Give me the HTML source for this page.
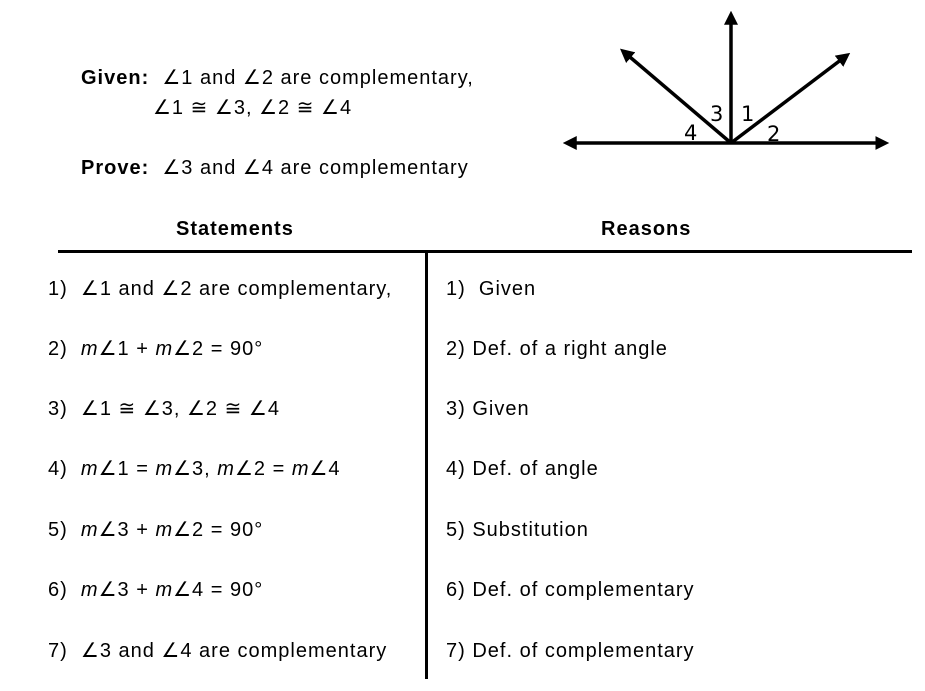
<!DOCTYPE html>
<html><head><style>
body{margin:0;width:925px;height:691px;background:#fff;position:relative;overflow:hidden;font-family:"Liberation Sans","DejaVu Sans",sans-serif;font-size:20px;color:#000}
.t{position:absolute;white-space:nowrap;line-height:24px;letter-spacing:1px}
b{font-weight:bold}
</style></head><body>
<div class="t" style="left:81px;top:66px"><b>Given:</b>&nbsp; ∠1 and ∠2 are complementary,</div>
<div class="t" style="left:153px;top:96px">∠1 ≅ ∠3, ∠2 ≅ ∠4</div>
<div class="t" style="left:81px;top:156px"><b>Prove:</b>&nbsp; ∠3 and ∠4 are complementary</div>
<div class="t" style="left:176px;top:217px"><b>Statements</b></div>
<div class="t" style="left:601px;top:217px"><b>Reasons</b></div>
<div style="position:absolute;left:58px;top:250px;width:854px;height:3px;background:#000"></div>
<div style="position:absolute;left:425px;top:251px;width:3px;height:428px;background:#000"></div>
<div class="t" style="left:48px;top:277px">1)&nbsp; ∠1 and ∠2 are complementary,</div>
<div class="t" style="left:48px;top:337px">2)&nbsp; <i>m</i>∠1 + <i>m</i>∠2 = 90°</div>
<div class="t" style="left:48px;top:397px">3)&nbsp; ∠1 ≅ ∠3, ∠2 ≅ ∠4</div>
<div class="t" style="left:48px;top:457px">4)&nbsp; <i>m</i>∠1 = <i>m</i>∠3, <i>m</i>∠2 = <i>m</i>∠4</div>
<div class="t" style="left:48px;top:518px">5)&nbsp; <i>m</i>∠3 + <i>m</i>∠2 = 90°</div>
<div class="t" style="left:48px;top:578px">6)&nbsp; <i>m</i>∠3 + <i>m</i>∠4 = 90°</div>
<div class="t" style="left:48px;top:639px">7)&nbsp; ∠3 and ∠4 are complementary</div>
<div class="t" style="left:446px;top:277px">1)&nbsp; Given</div>
<div class="t" style="left:446px;top:337px">2) Def. of a right angle</div>
<div class="t" style="left:446px;top:397px">3) Given</div>
<div class="t" style="left:446px;top:457px">4) Def. of angle</div>
<div class="t" style="left:446px;top:518px">5) Substitution</div>
<div class="t" style="left:446px;top:578px">6) Def. of complementary</div>
<div class="t" style="left:446px;top:639px">7) Def. of complementary</div>
<svg style="position:absolute;left:0;top:0" width="925" height="691">
<defs><marker id="a" markerWidth="4" markerHeight="4" refX="2.5" refY="2" orient="auto" markerUnits="strokeWidth"><path d="M0,0 L4,2 L0,4 z" fill="#000"/></marker></defs>
<g stroke="#000" stroke-width="3.5" fill="none">
<line x1="731" y1="143" x2="568" y2="143" marker-end="url(#a)"/>
<line x1="731" y1="143" x2="884" y2="143" marker-end="url(#a)"/>
<line x1="731" y1="143" x2="731" y2="16" marker-end="url(#a)"/>
<line x1="731" y1="143" x2="624" y2="52" marker-end="url(#a)"/>
<line x1="731" y1="143" x2="846" y2="56" marker-end="url(#a)"/>
</g>
<g font-family="DejaVu Sans,sans-serif" font-size="21">
<text x="710" y="121">3</text><text x="741" y="121">1</text>
<text x="684" y="140">4</text><text x="767" y="141">2</text>
</g>
</svg>
</body></html>
